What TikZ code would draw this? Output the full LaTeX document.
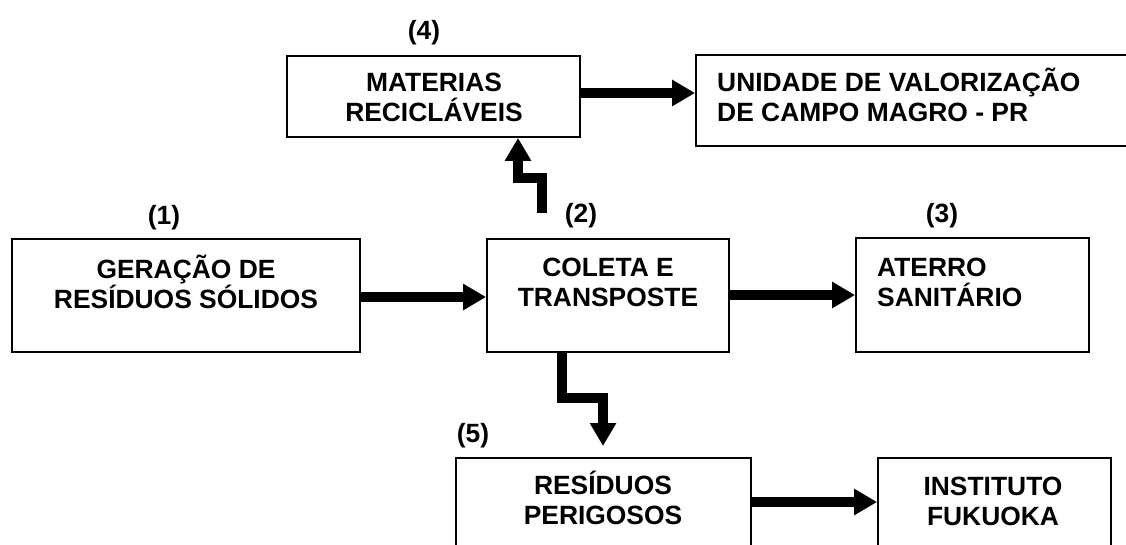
\documentclass[tikz,border=0pt]{standalone}
\usepackage{fontspec}
\setmainfont{Liberation Sans}
\usetikzlibrary{arrows.meta}
\newcommand{\fst}{\rule{0pt}{26pt}}
\tikzset{
  box/.style={draw=black, line width=1.8pt, fill=white, inner sep=0pt},
  txt/.style={anchor=north, inner sep=0pt, font=\bfseries\fontsize{26.4}{30}\selectfont},
  num/.style={anchor=base, inner sep=0pt, font=\bfseries\fontsize{26.4}{30}\selectfont},
  arr/.style={line width=10pt, line join=miter, -{Triangle[length=23pt,width=25pt]}}
}
\begin{document}
\begin{tikzpicture}[x=1pt,y=-1pt]
\useasboundingbox (0,0) rectangle (1126,544);
\clip (0,0) rectangle (1126,544);
% boxes
\node[box, minimum width=348pt, minimum height=113pt] (b1) at (186,295.5) {};
\node[box, minimum width=242pt, minimum height=113pt] (b2) at (608,295.5) {};
\node[box, minimum width=233pt, minimum height=114pt] (b3) at (972.5,295) {};
\node[box, minimum width=293pt, minimum height=81pt] (b4) at (433.5,96.5) {};
\node[box, minimum width=460pt, minimum height=91pt] (uv) at (926,100.5) {};
\node[box, minimum width=295pt, minimum height=113pt] (b5) at (603.5,514.5) {};
\node[box, minimum width=233pt, minimum height=113pt] (b6) at (994.5,514.5) {};
% texts
\node[txt, align=center] (t1) at (186,252) {\fst GERAÇÃO DE\\RESÍDUOS SÓLIDOS};
\node[txt, align=center] (t2) at (608,250.5) {\fst COLETA E\\TRANSPOSTE};
\node[txt, align=left, anchor=north west] (t3) at (877,250.5) {\fst ATERRO\\SANITÁRIO};
\node[txt, align=center] (t4) at (434,65) {\fst MATERIAS\\RECICLÁVEIS};
\node[txt, align=left, anchor=north west] (t5) at (717,65.5) {\fst UNIDADE DE VALORIZAÇÃO\\DE CAMPO MAGRO - PR};
\node[txt, align=center] (t6) at (603,468.5) {\fst RESÍDUOS\\PERIGOSOS};
\node[txt, align=center] (t7) at (993,469) {\fst INSTITUTO\\FUKUOKA};
% numbers
\node[num] (n1) at (164,224) {(1)};
\node[num] (n2) at (581,222) {(2)};
\node[num] (n3) at (942,222) {(3)};
\node[num] (n4) at (424,39) {(4)};
\node[num] (n5) at (473,442) {(5)};
% connectors
\coordinate (c4) at (542,213);
\coordinate (c5) at (603,446);
\draw[arr] (b1.east |- 0,297) -- (b2.west |- 0,297);
\draw[arr] (b2.east |- 0,295) -- (b3.west |- 0,295);
\draw[arr] (b4.east |- 0,93) -- (uv.west |- 0,93);
\draw[arr] (c4) -- (542,178) -- (518,178) -- (b4.south -| 518,0);
\draw[arr] (b2.south -| 562,0) -- (562,398) -- (603,398) -- (c5);
\draw[arr] (b5.east |- 0,502) -- (b6.west |- 0,502);
\end{tikzpicture}
\end{document}
